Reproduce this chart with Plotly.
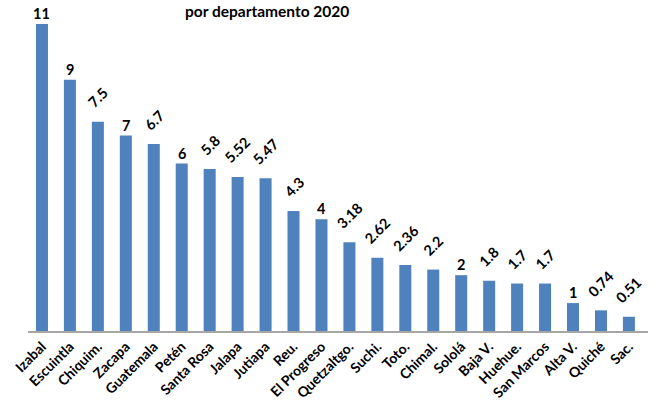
import plotly.graph_objects as go

departamentos = ["Izabal", "Escuintla", "Chiquim.", "Zacapa", "Guatemala", "Petén", "Santa Rosa",
                 "Jalapa", "Jutiapa", "Reu.", "El Progreso", "Quetzaltgo.", "Suchi.", "Toto.",
                 "Chimal.", "Sololá", "Baja V.", "Huehue.", "San Marcos", "Alta V.", "Quiché", "Sac."]
valores = [11, 9, 7.5, 7, 6.7, 6, 5.8, 5.52, 5.47, 4.3, 4, 3.18, 2.62, 2.36,
           2.2, 2, 1.8, 1.7, 1.7, 1, 0.74, 0.51]
etiquetas = ["11", "9", "7.5", "7", "6.7", "6", "5.8", "5.52", "5.47", "4.3", "4", "3.18", "2.62", "2.36",
             "2.2", "2", "1.8", "1.7", "1.7", "1", "0.74", "0.51"]

FONT = "Lato"

fig = go.Figure()
fig.add_trace(go.Bar(x=departamentos, y=valores, marker=dict(color="#4F81BD", line=dict(width=0)),
                     hoverinfo="x+y"))

annotations = []
for d, v, t in zip(departamentos, valores, etiquetas):
    rotated = "." in t
    annotations.append(dict(
        x=d, y=v, text="<b>%s</b>" % t, showarrow=False,
        xanchor="center", yanchor="bottom",
        textangle=-45 if rotated else 0,
        yshift=8 if rotated else 0,
        font=dict(family=FONT, size=14.5, color="black"),
    ))

annotations.append(dict(
    text="<b>por departamento 2020</b>", xref="paper", yref="paper",
    x=0.385, y=1.0, xanchor="center", yanchor="top", yshift=15,
    showarrow=False, font=dict(family=FONT, size=15.5, color="black")))

fig.update_layout(
    width=658, height=406,
    margin=dict(l=28, r=10, t=15, b=75),
    paper_bgcolor="white", plot_bgcolor="white",
    bargap=0.57,
    showlegend=False,
    annotations=annotations,
    xaxis=dict(tickangle=-45, tickfont=dict(family=FONT, size=14, color="black"),
               showline=True, linecolor="#A6A6A6", linewidth=2, ticks="",
               showgrid=False, tickprefix="<b>", ticksuffix="</b>", automargin=False),
    yaxis=dict(range=[0, 11.32], visible=False, showgrid=False, zeroline=False, automargin=False),
)

fig.write_html("out.html", config={"displayModeBar": False},
               post_script="document.body.style.margin='0px';")
